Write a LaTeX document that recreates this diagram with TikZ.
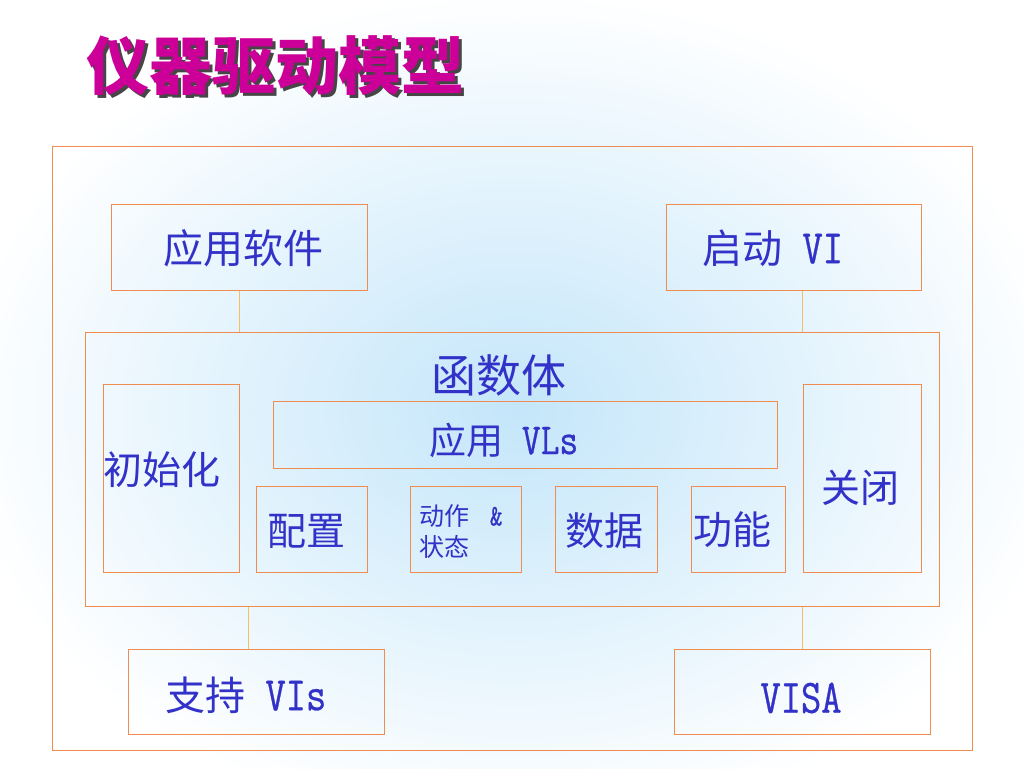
\documentclass[tikz,border=0pt]{standalone}
\usepackage{fontspec}
\setmainfont{Noto Sans CJK SC}
\newfontfamily\lat{Latin Modern Mono}[Scale=1.2, FakeStretch=0.82, FakeBold=0.6]
\usetikzlibrary{calc}
\definecolor{borderc}{RGB}{240,140,80}
\definecolor{linkc}{RGB}{245,190,100}
\definecolor{txtc}{RGB}{50,50,200}
\definecolor{titlec}{RGB}{204,0,153}
\definecolor{shadowc}{RGB}{70,70,70}
\definecolor{bgblue}{RGB}{196,230,250}
\tikzset{
  box/.style={draw=borderc, line width=1.2pt, anchor=north west, inner sep=0pt},
  lbl/.style={text=txtc, inner sep=0pt, font=\fontsize{#1}{#1}\selectfont},
  link/.style={draw=linkc, line width=1pt},
}
\newcommand\shadowtext[1]{\rlap{\hspace{3.5pt}\raisebox{-3.5pt}{\color{shadowc}#1}}#1}
\begin{document}
\begin{tikzpicture}[x=1pt,y=-1pt]
\useasboundingbox (0,0) rectangle (1024,768);
\begin{scope}
\clip (0,0) rectangle (1024,768);
\fill[white] (0,0) rectangle (1024,768);
\shade[inner color=bgblue, outer color=white] (515,410) ellipse [x radius=560, y radius=420];
\end{scope}
% title
\node[text=titlec, font=\bfseries\fontsize{63}{63}\selectfont, anchor=west, inner sep=0pt] (title) at (86,67) {\shadowtext{仪器驱动模型}};
% boxes
\node[box, minimum width=920pt, minimum height=604pt] (outer) at (52,146) {};
\node[box, minimum width=256pt, minimum height=86pt] (app) at (111,204) {};
\node[box, minimum width=255pt, minimum height=86pt] (start) at (666,204) {};
\node[box, minimum width=854pt, minimum height=274pt] (body) at (85,332) {};
\node[box, minimum width=136pt, minimum height=188pt] (init) at (103,384) {};
\node[box, minimum width=504pt, minimum height=67pt] (appvl) at (273,401) {};
\node[box, minimum width=111pt, minimum height=86pt] (cfg) at (256,486) {};
\node[box, minimum width=111pt, minimum height=86pt] (act) at (410,486) {};
\node[box, minimum width=102pt, minimum height=86pt] (data) at (555,486) {};
\node[box, minimum width=94pt, minimum height=86pt] (func) at (691,486) {};
\node[box, minimum width=118pt, minimum height=188pt] (close) at (803,384) {};
\node[box, minimum width=256pt, minimum height=85pt] (support) at (128,649) {};
\node[box, minimum width=256pt, minimum height=85pt] (visa) at (674,649) {};
% labels
\node[lbl=40] (apptxt) at (243,248) {应用软件};
\node[lbl=40, anchor=west] (starttxt) at (702,248) {启动{\lat\ VI}};
\node[lbl=45] (bodytxt) at (499,375) {函数体};
\node[lbl=39] (inittxt) at (162,470) {初始化};
\node[lbl=37, anchor=west] (appvltxt) at (429,440) {应用{\lat\ VLs}};
\node[lbl=39] (cfgtxt) at (306,531) {配置};
\node[lbl=25, anchor=west] (acttxt1) at (419,516) {动作\hspace{8pt}{\lat\ \&}};
\node[lbl=25, anchor=west] (acttxt2) at (419,547) {状态};
\node[lbl=39] (datatxt) at (604,531) {数据};
\node[lbl=39] (functxt) at (732,530) {功能};
\node[lbl=39] (closetxt) at (860,488) {关闭};
\node[lbl=40, anchor=west] (supporttxt) at (165,695) {支持{\lat\ VIs}};
\node[lbl=40] (visatxt) at (801,698) {\lat VISA};
% connectors
\draw[link] (app.south) -- (app.south |- body.north);
\coordinate (startlink) at ([xshift=8.5pt]start.south);
\draw[link] (startlink) -- (startlink |- body.north);
\coordinate (suplink) at ([xshift=-8pt]support.north);
\draw[link] (suplink) -- (suplink |- body.south);
\draw[link] (visa.north) -- (visa.north |- body.south);
\end{tikzpicture}
\end{document}
